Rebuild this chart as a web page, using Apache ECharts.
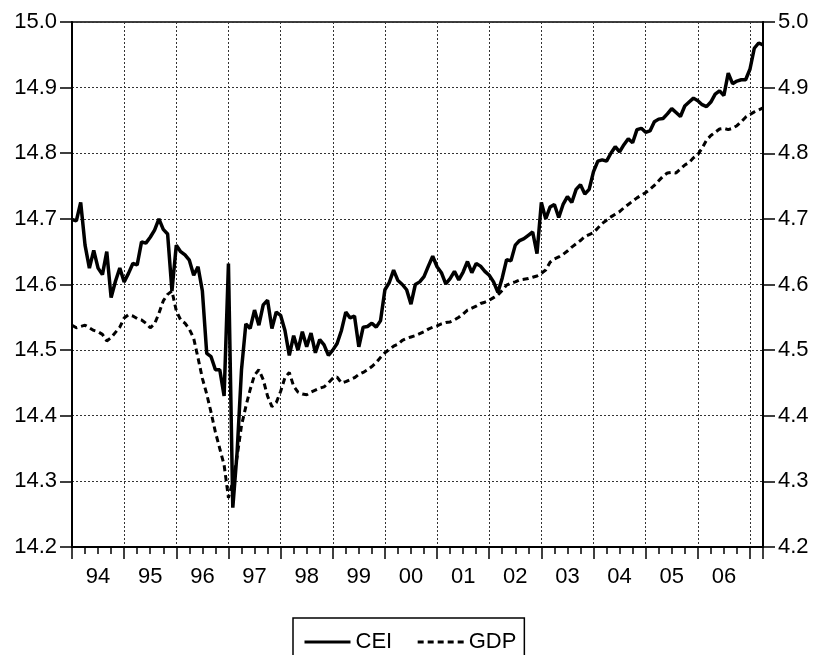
<!DOCTYPE html>
<html>
<head>
<meta charset="utf-8">
<script src="https://cdn.jsdelivr.net/npm/echarts@6/dist/echarts.min.js"></script>
<style>
html,body{margin:0;padding:0;background:#fff;}
#chart{width:815px;height:655px;}
</style>
</head>
<body>
<div id="chart"></div>
<script>
// Monthly data, Jan 1994 .. Apr 2007
const years = [1994,1995,1996,1997,1998,1999,2000,2001,2002,2003,2004,2005,2006,2007];
const yearLabels = ['94','95','96','97','98','99','00','01','02','03','04','05','06'];
const leftTicks = [14.2,14.3,14.4,14.5,14.6,14.7,14.8,14.9,15.0];
const rightTicks = [4.2,4.3,4.4,4.5,4.6,4.7,4.8,4.9,5.0];

const cei1994 = [14.699,14.697,14.725,14.660,14.625,14.652,14.625,14.615,14.650,14.580,14.605,14.625];
const cei1995 = [14.604,14.617,14.632,14.630,14.665,14.663,14.672,14.683,14.700,14.684,14.677,14.590];
const cei1996 = [14.660,14.650,14.645,14.637,14.614,14.627,14.590,14.495,14.490,14.470,14.470,14.430];
const cei1997 = [14.632,14.260,14.345,14.470,14.540,14.533,14.561,14.538,14.569,14.576,14.533,14.558];
const cei1998 = [14.553,14.530,14.492,14.522,14.500,14.528,14.505,14.526,14.496,14.516,14.508,14.492];
const cei1999 = [14.500,14.510,14.530,14.558,14.549,14.552,14.505,14.535,14.536,14.541,14.535,14.545];
const cei2000 = [14.592,14.603,14.622,14.606,14.600,14.592,14.570,14.600,14.604,14.612,14.628,14.643];
const cei2001 = [14.627,14.618,14.601,14.609,14.620,14.607,14.619,14.635,14.618,14.632,14.628,14.620];
const cei2002 = [14.614,14.604,14.588,14.610,14.638,14.636,14.660,14.667,14.670,14.675,14.680,14.647];
const cei2003 = [14.725,14.700,14.718,14.722,14.702,14.722,14.734,14.725,14.745,14.752,14.738,14.745];
const cei2004 = [14.772,14.788,14.790,14.788,14.800,14.810,14.802,14.813,14.822,14.816,14.836,14.838];
const cei2005 = [14.832,14.834,14.848,14.852,14.853,14.860,14.868,14.862,14.856,14.872,14.878,14.884];
const cei2006 = [14.880,14.874,14.871,14.878,14.890,14.895,14.888,14.922,14.906,14.910,14.912,14.912];
const cei2007 = [14.928,14.960,14.968,14.965];

const gdp1994 = [4.538,4.534,4.536,4.538,4.534,4.530,4.528,4.524,4.514,4.519,4.527,4.535];
const gdp1995 = [4.549,4.554,4.552,4.548,4.546,4.541,4.534,4.540,4.556,4.575,4.585,4.590];
const gdp1996 = [4.560,4.546,4.541,4.532,4.518,4.488,4.457,4.433,4.405,4.375,4.350,4.325];
const gdp1997 = [4.275,4.300,4.338,4.385,4.414,4.440,4.462,4.470,4.455,4.430,4.414,4.420];
const gdp1998 = [4.437,4.458,4.466,4.445,4.436,4.433,4.432,4.436,4.439,4.442,4.444,4.450];
const gdp1999 = [4.457,4.459,4.450,4.452,4.455,4.458,4.463,4.466,4.470,4.475,4.481,4.489];
const gdp2000 = [4.496,4.501,4.506,4.509,4.515,4.518,4.520,4.522,4.525,4.528,4.532,4.535];
const gdp2001 = [4.537,4.540,4.542,4.543,4.546,4.550,4.555,4.561,4.564,4.567,4.571,4.573];
const gdp2002 = [4.576,4.580,4.584,4.591,4.599,4.602,4.604,4.607,4.608,4.609,4.611,4.613];
const gdp2003 = [4.617,4.622,4.634,4.639,4.642,4.646,4.651,4.657,4.662,4.667,4.673,4.676];
const gdp2004 = [4.679,4.686,4.693,4.698,4.703,4.707,4.711,4.717,4.722,4.727,4.732,4.736];
const gdp2005 = [4.740,4.745,4.751,4.758,4.765,4.770,4.771,4.770,4.776,4.782,4.786,4.793];
const gdp2006 = [4.798,4.808,4.820,4.827,4.832,4.837,4.838,4.836,4.838,4.842,4.848,4.855];
const gdp2007 = [4.859,4.863,4.866,4.869];

const ceiByYear = [cei1994,cei1995,cei1996,cei1997,cei1998,cei1999,cei2000,cei2001,cei2002,cei2003,cei2004,cei2005,cei2006,cei2007];
const gdpByYear = [gdp1994,gdp1995,gdp1996,gdp1997,gdp1998,gdp1999,gdp2000,gdp2001,gdp2002,gdp2003,gdp2004,gdp2005,gdp2006,gdp2007];

function toSeries(byYear){
  const out = [];
  byYear.forEach((arr, yi) => arr.forEach((v, m) => out.push([years[yi] + m/12, v])));
  return out;
}
const ceiData = toSeries(ceiByYear);
const gdpData = toSeries(gdpByYear);

const FONT = 'Liberation Sans, Arial, sans-serif';
const gridLine = {show:true, lineStyle:{color:'#333', width:1, type:[2,2]}};
const xMin = 1994, xMax = 2007.25;

const chart = echarts.init(document.getElementById('chart'), null, {renderer:'canvas'});
chart.setOption({
  animation:false,
  backgroundColor:'#fff',
  textStyle:{fontFamily:FONT},
  grid:{left:72, right:52, top:22, bottom:108, show:true, borderColor:'#000', borderWidth:1.5, backgroundColor:'transparent'},
  legend:{
    left:293, top:618, orient:'horizontal',
    data:['CEI','GDP'],
    itemWidth:46, itemHeight:14, itemGap:24,
    padding:[13,8,22,10],
    borderColor:'#000', borderWidth:1.5,
    itemStyle:{opacity:0, color:'transparent', borderWidth:0},
    lineStyle:{width:3},
    textStyle:{fontFamily:FONT, fontSize:22, color:'#000'}
  },
  xAxis:[
    { // quarterly minor ticks
      type:'value', min:xMin, max:xMax, interval:0.25, position:'bottom',
      axisLine:{show:true, lineStyle:{color:'#000', width:2}},
      axisTick:{show:true, length:7, lineStyle:{color:'#000', width:1.5}},
      axisLabel:{show:false}, splitLine:{show:false}
    },
    { // yearly major ticks and grid
      type:'value', min:xMin, max:xMax, interval:1, position:'bottom',
      axisLine:{show:false},
      axisTick:{show:true, length:12, lineStyle:{color:'#000', width:1.5}},
      axisLabel:{show:false}, splitLine:gridLine
    },
    { // year labels centred in each year
      type:'value', min:xMin, max:xMax, interval:0.5, position:'bottom',
      axisLine:{show:false}, axisTick:{show:false}, splitLine:{show:false},
      axisLabel:{show:true, margin:19, fontSize:22, color:'#000', fontFamily:FONT,
        formatter:function(v){
          const frac = Math.round((v - Math.floor(v))*100)/100;
          if (Math.abs(frac-0.5) > 0.01) return '';
          const idx = Math.floor(v) - years[0];
          return yearLabels[idx] || '';
        }}
    }
  ],
  yAxis:[
    {
      type:'value', position:'left', min:leftTicks[0], max:leftTicks[leftTicks.length-1], interval:0.1,
      axisLine:{show:true, lineStyle:{color:'#000', width:2}},
      axisTick:{show:true, inside:false, length:12, lineStyle:{color:'#000', width:1.5}},
      axisLabel:{margin:15, fontSize:22, color:'#000', fontFamily:FONT, formatter:v=>v.toFixed(1)},
      splitLine:gridLine
    },
    {
      type:'value', position:'right', min:rightTicks[0], max:rightTicks[rightTicks.length-1], interval:0.1,
      axisLine:{show:true, lineStyle:{color:'#000', width:2}},
      axisTick:{show:true, inside:false, length:12, lineStyle:{color:'#000', width:1.5}},
      axisLabel:{margin:15, fontSize:22, color:'#000', fontFamily:FONT, formatter:v=>v.toFixed(1)},
      splitLine:{show:false}
    }
  ],
  series:[
    {
      name:'CEI', type:'line', xAxisIndex:0, yAxisIndex:0, data:ceiData,
      symbol:'none', showSymbol:false, smooth:false,
      lineStyle:{color:'#000', width:3.5, type:'solid'},
      itemStyle:{color:'#000'}, z:5
    },
    {
      name:'GDP', type:'line', xAxisIndex:0, yAxisIndex:1, data:gdpData,
      symbol:'none', showSymbol:false, smooth:false,
      lineStyle:{color:'#000', width:3, type:[6,4]},
      itemStyle:{color:'#000'}, z:4
    }
  ]
});
</script>
</body>
</html>
